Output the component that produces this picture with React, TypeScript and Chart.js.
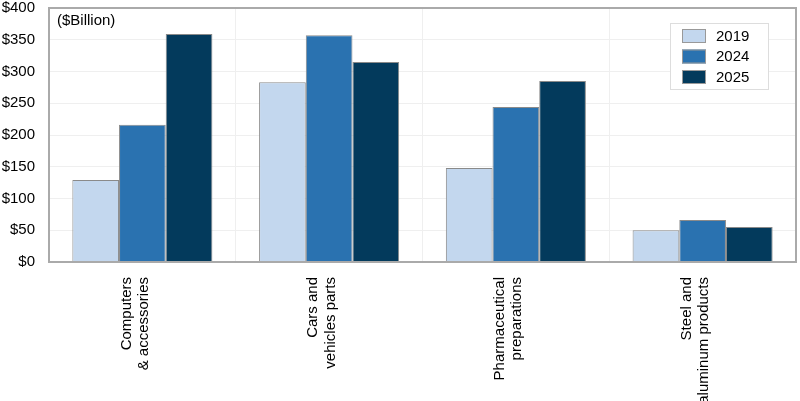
import React, { useEffect, useRef } from "react";
import { Chart, registerables } from "chart.js";

Chart.register(...registerables);

const categories: string[][] = [
  ["Computers", "& accessories"],
  ["Cars and", "vehicles parts"],
  ["Pharmaceutical", "preparations"],
  ["Steel and", "aluminum products"],
];
const years = ["2019", "2024", "2025"];
const values2019 = [129, 283, 148, 50];
const values2024 = [216, 357, 244, 66];
const values2025 = [359, 315, 285, 55];
const colors = ["#c3d7ee", "#2a72b0", "#033a5c"];
const unitLabel = "($Billion)";
const FONT = "'Liberation Sans', Arial, sans-serif";

const overlayPlugin = {
  id: "overlay",
  afterDraw(chart: any) {
    const { ctx, chartArea } = chart;
    const { left, right, top, bottom } = chartArea;
    ctx.save();
    // plot frame
    ctx.strokeStyle = "#aaaaaa";
    ctx.lineWidth = 2;
    ctx.strokeRect(left, top, right - left, bottom - top);
    // unit label
    ctx.fillStyle = "#000";
    ctx.font = `15px ${FONT}`;
    ctx.textBaseline = "middle";
    ctx.textAlign = "left";
    ctx.fillText(unitLabel, left + 8, top + 13);
    // legend box
    const bw = 98;
    const bh = 66;
    const bx = right - 28 - bw;
    const by = top + 15;
    ctx.fillStyle = "#fff";
    ctx.fillRect(bx, by, bw, bh);
    ctx.strokeStyle = "#dddddd";
    ctx.lineWidth = 1;
    ctx.strokeRect(bx + 0.5, by + 0.5, bw, bh);
    years.forEach((y, i) => {
      const sy = by + 6 + i * 20.5;
      ctx.fillStyle = colors[i];
      ctx.fillRect(bx + 12, sy, 24, 14);
      ctx.strokeStyle = "#999";
      ctx.strokeRect(bx + 12.5, sy + 0.5, 23, 13);
      ctx.fillStyle = "#000";
      ctx.font = `15px ${FONT}`;
      ctx.textAlign = "left";
      ctx.textBaseline = "middle";
      ctx.fillText(y, bx + 46, sy + 7.5);
    });
    ctx.restore();
  },
};

export default function App() {
  const ref = useRef<HTMLCanvasElement | null>(null);
  useEffect(() => {
    if (!ref.current) return;
    const series = [values2019, values2024, values2025];
    const chart = new Chart(ref.current, {
      type: "bar",
      data: {
        labels: categories,
        datasets: years.map((y, i) => ({
          label: y,
          data: series[i],
          backgroundColor: colors[i],
          borderColor: "#8a8a8a",
          borderWidth: 1,
          categoryPercentage: 0.75,
          barPercentage: 1,
        })),
      },
      options: {
        animation: false,
        responsive: false,
        maintainAspectRatio: false,
        layout: { padding: { left: 0, right: 4, top: 0, bottom: 0 } },
        plugins: {
          legend: { display: false },
          tooltip: { enabled: false },
        },
        scales: {
          x: {
            grid: { offset: true, color: "#efefef", drawTicks: false },
            border: { display: false },
            afterFit: (axis: any) => {
              axis.height = 139;
              axis.paddingTop = 0;
              axis.paddingBottom = 0;
            },
            ticks: {
              color: "#000",
              font: { family: FONT, size: 15, lineHeight: 1.15 },
              maxRotation: 90,
              minRotation: 90,
              padding: 15,
              labelOffset: -16,
              autoSkip: false,
            },
          },
          y: {
            min: 0,
            max: 400,
            grid: { color: "#efefef", drawTicks: false },
            border: { display: false },
            afterFit: (axis: any) => {
              axis.width = 49;
              axis.paddingTop = 8;
            },
            ticks: {
              stepSize: 50,
              color: "#000",
              font: { family: FONT, size: 15 },
              padding: 14,
              callback: (v: any) => "$" + v,
            },
          },
        },
      },
      plugins: [overlayPlugin],
    });
    return () => chart.destroy();
  }, []);
  return (
    <div style={{ position: "fixed", left: 0, top: 0, width: 800, height: 401, background: "#fff" }}>
      <canvas ref={ref} width={800} height={401} />
    </div>
  );
}
